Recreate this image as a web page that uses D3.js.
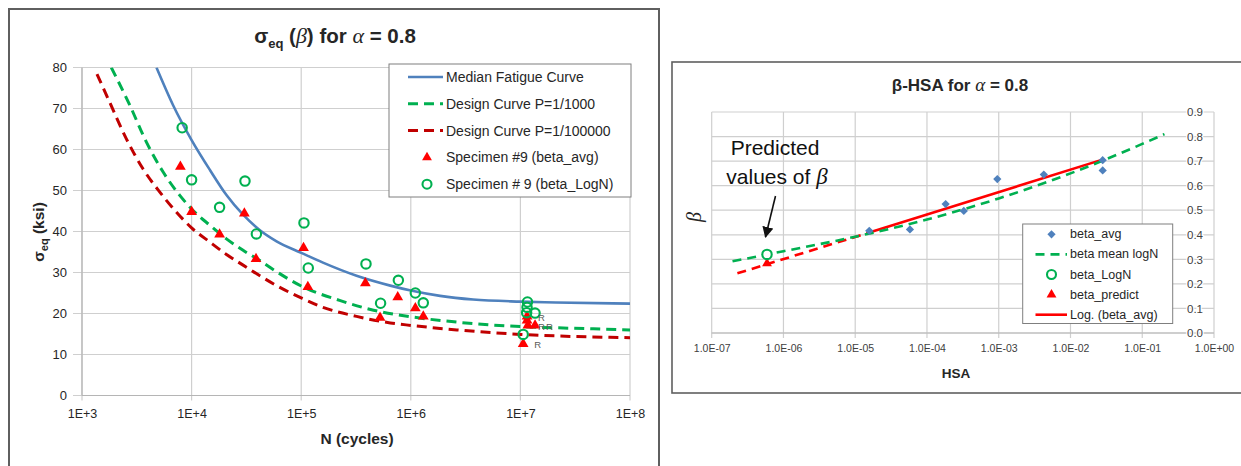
<!DOCTYPE html>
<html>
<head>
<meta charset="utf-8">
<script src="https://cdn.jsdelivr.net/npm/d3@7"></script>
<style>
  body { margin: 0; background: #fff; }
  svg { display: block; }
  text { font-family: "Liberation Sans", Arial, sans-serif; }
</style>
</head>
<body>
<svg id="chart" width="1241" height="466"></svg>
<script>
// ---------- S-N chart: equivalent stress vs. cycles ----------
const nTicks = [1e3, 1e4, 1e5, 1e6, 1e7, 1e8];
const nTickLabels = ["1E+3", "1E+4", "1E+5", "1E+6", "1E+7", "1E+8"];
const sTicks = [0, 10, 20, 30, 40, 50, 60, 70, 80];

const medianN = [4.78e3, 6.78e3, 1e4, 1.47e4, 2.08e4, 2.95e4, 4.2e4, 5.96e4, 1e5, 1.58e5, 3.2e5, 6.5e5, 1e6, 1.85e6, 3.7e6, 1e7, 2.1e7, 1e8];
const medianS = [80, 70.8, 62.3, 55.0, 48.9, 44.1, 40.3, 37.6, 34.8, 32.4, 29.2, 26.8, 25.6, 24.3, 23.4, 22.9, 22.7, 22.4];

const design1000N = [1.85e3, 2.73e3, 3.87e3, 5.5e3, 7.8e3, 1e4, 1.47e4, 2.08e4, 2.95e4, 4.2e4, 5.96e4, 1e5, 2.24e5, 4.57e5, 1e6, 2.63e6, 1e7, 3e7, 1e8];
const design1000S = [80, 70.8, 61.8, 54.5, 48.8, 45.5, 41.5, 38.2, 35.4, 32.9, 30.2, 26.7, 23.2, 20.8, 19.2, 17.9, 16.8, 16.4, 16.0];

const design100000N = [1.37e3, 1.79e3, 2.54e3, 3.6e3, 5.13e3, 7.28e3, 1e4, 1.47e4, 2.08e4, 2.95e4, 4.2e4, 5.96e4, 1e5, 1.58e5, 3.2e5, 6.5e5, 1e6, 2.63e6, 1e7, 3e7, 1e8];
const design100000S = [78.4, 71.5, 62.6, 55.3, 49.6, 44.7, 40.9, 37.4, 34.4, 31.8, 29.2, 26.8, 23.8, 21.5, 19.3, 17.7, 17.1, 16.0, 14.9, 14.4, 14.1];

// Specimen #9, beta_avg (triangles)
const avgN = [7.9e3, 1.0e4, 1.8e4, 3.03e4, 3.87e4, 1.05e5, 1.15e5, 3.85e5, 5.24e5, 7.6e5, 1.1e6, 1.3e6, 1.15e7, 1.15e7, 1.17e7, 1.36e7, 1.06e7];
const avgS = [55.8, 44.8, 39.3, 44.4, 33.3, 36.0, 26.5, 27.4, 19.0, 24.0, 21.3, 19.3, 19.3, 18.3, 17.1, 17.1, 12.6];

// Specimen #9, beta_LogN (circles)
const logNN = [8.2e3, 1.0e4, 1.8e4, 3.07e4, 3.9e4, 1.06e5, 1.16e5, 3.9e5, 5.3e5, 7.7e5, 1.1e6, 1.3e6, 1.16e7, 1.15e7, 1.14e7, 1.36e7, 1.06e7];
const logNS = [65.3, 52.6, 45.9, 52.3, 39.4, 42.1, 31.1, 32.1, 22.5, 28.1, 25.0, 22.6, 22.8, 21.5, 20.2, 20.1, 14.9];

// run-out specimens, marked "R"
const runoutN = [1.15e7, 1.15e7, 1.36e7, 1.06e7];
const runoutS = [19.3, 17.1, 17.1, 12.6];

// ---------- beta vs. HSA chart ----------
const hsaTicks = [1e-7, 1e-6, 1e-5, 1e-4, 1e-3, 1e-2, 1e-1, 1e0];
const hsaTickLabels = ["1.0E-07", "1.0E-06", "1.0E-05", "1.0E-04", "1.0E-03", "1.0E-02", "1.0E-01", "1.0E+00"];
const betaTicks = [0, 0.1, 0.2, 0.3, 0.4, 0.5, 0.6, 0.7, 0.8, 0.9];

const avgHsa = [1.57e-5, 5.79e-5, 1.82e-4, 3.26e-4, 9.55e-4, 4.25e-3, 2.81e-2, 2.81e-2];
const avgBeta = [0.416, 0.422, 0.525, 0.497, 0.627, 0.645, 0.704, 0.662];

const meanLogNHsa = [1.95e-7, 1e-6, 1e-5, 1e-4, 1e-3, 1e-2, 1e-1, 0.204];
const meanLogNBeta = [0.292, 0.333, 0.392, 0.462, 0.548, 0.650, 0.770, 0.810];

const logFitBackHsa = [2.28e-7, 1.57e-5];
const logFitBackBeta = [0.243, 0.409];
const logFitHsa = [1.57e-5, 2.65e-2];
const logFitBeta = [0.409, 0.704];

const predictHsa = [5.9e-7];
const predictLogN = [0.320];
const predictAvg = [0.283];

const svg = d3.select("#chart");
const BLUE = "#4F81BD", GREEN = "#00B050", DARKRED = "#C00000", RED = "#FF0000";
const GRID = "#cfcfcf", INK = "#262626";
const SERIF = "Liberation Serif, serif";

// ================= Left chart =================
svg.append("rect").attr("x", 9).attr("y", 9).attr("width", 650).attr("height", 470)
  .attr("fill", "#fff").attr("stroke", "#5f5f5f").attr("stroke-width", 2);

const x1 = d3.scaleLog().domain([1e3, 1e8]).range([82, 630]);
const y1 = d3.scaleLinear().domain([0, 80]).range([395.5, 67.5]);

const g1 = svg.append("g");
g1.append("clipPath").attr("id", "clip1").append("rect")
  .attr("x", 82).attr("y", 67.5).attr("width", 548).attr("height", 328);

// grid
g1.append("g").selectAll("line").data(nTicks).join("line")
  .attr("x1", d => x1(d)).attr("x2", d => x1(d)).attr("y1", y1(80)).attr("y2", y1(0) + 5)
  .attr("stroke", GRID).attr("stroke-width", 1.2);
g1.append("g").selectAll("line").data(sTicks).join("line")
  .attr("x1", x1(1e3) - 9).attr("x2", x1(1e8)).attr("y1", d => y1(d)).attr("y2", d => y1(d))
  .attr("stroke", GRID).attr("stroke-width", 1.2);
g1.append("line").attr("x1", x1(1e3)).attr("x2", x1(1e3)).attr("y1", y1(80)).attr("y2", y1(0))
  .attr("stroke", "#b5b5b5").attr("stroke-width", 1.2);
g1.append("line").attr("x1", x1(1e3)).attr("x2", x1(1e8)).attr("y1", y1(0)).attr("y2", y1(0))
  .attr("stroke", "#b5b5b5").attr("stroke-width", 1.2);

// tick labels via d3 axes
const ax1 = g1.append("g").attr("transform", `translate(0,${y1(0)})`)
  .call(d3.axisBottom(x1).tickValues(nTicks).tickFormat((d, i) => nTickLabels[i]).tickSize(0).tickPadding(14));
const ay1 = g1.append("g").attr("transform", `translate(${x1(1e3)},0)`)
  .call(d3.axisLeft(y1).tickValues(sTicks).tickFormat(d3.format("d")).tickSize(0).tickPadding(15));
ax1.selectAll("text").style("font-size", "12.5px");
ay1.selectAll("text").style("font-size", "13px");
[ax1, ay1].forEach(a => {
  a.select(".domain").remove();
  a.selectAll("text").attr("fill", INK).style("font-family", "Liberation Sans, Arial, sans-serif");
});

// curves
const lineN = d3.line().curve(d3.curveMonotoneX);
function curvePts(ns, ss) { return ns.map((n, i) => [x1(n), y1(ss[i])]); }
const curves = g1.append("g").attr("clip-path", "url(#clip1)");
curves.append("path").attr("d", lineN(curvePts(design100000N, design100000S)))
  .attr("fill", "none").attr("stroke", DARKRED).attr("stroke-width", 3).attr("stroke-dasharray", "10,6");
curves.append("path").attr("d", lineN(curvePts(design1000N, design1000S)))
  .attr("fill", "none").attr("stroke", GREEN).attr("stroke-width", 3).attr("stroke-dasharray", "10,6");
curves.append("path").attr("d", lineN(curvePts(medianN, medianS)))
  .attr("fill", "none").attr("stroke", BLUE).attr("stroke-width", 2.6);

// markers
const tri = d3.symbol(d3.symbolTriangle, 50);
g1.append("g").selectAll("path").data(avgN).join("path")
  .attr("d", tri).attr("transform", (d, i) => `translate(${x1(d)},${y1(avgS[i])})`)
  .attr("fill", RED);
g1.append("g").selectAll("circle").data(logNN).join("circle")
  .attr("cx", d => x1(d)).attr("cy", (d, i) => y1(logNS[i])).attr("r", 4.7)
  .attr("fill", "none").attr("stroke", GREEN).attr("stroke-width", 2.1);
g1.append("g").selectAll("text").data(runoutN).join("text")
  .attr("x", d => x1(d) + 11).attr("y", (d, i) => y1(runoutS[i]) + 1)
  .attr("dominant-baseline", "central").attr("fill", "#595959").style("font-size", "9.5px").text("R");

// titles
const t1 = svg.append("text").attr("x", 335).attr("y", 43).attr("text-anchor", "middle")
  .attr("font-weight", "bold").style("font-size", "20.5px").attr("fill", INK);
t1.append("tspan").text("σ");
t1.append("tspan").attr("dy", 5).style("font-size", "13px").text("eq");
t1.append("tspan").attr("dy", -5).text(" (");
t1.append("tspan").style("font-family", SERIF).attr("font-style", "italic").attr("font-weight", "normal").style("font-size", "22px").text("β");
t1.append("tspan").text(") for ");
t1.append("tspan").style("font-family", SERIF).attr("font-style", "italic").attr("font-weight", "normal").style("font-size", "22px").text("α");
t1.append("tspan").text(" = 0.8");

svg.append("text").attr("x", 357).attr("y", 444).attr("text-anchor", "middle")
  .attr("font-weight", "bold").style("font-size", "15.5px").attr("fill", INK).text("N (cycles)");

const yl1 = svg.append("text").attr("transform", "translate(44,232) rotate(-90)").attr("text-anchor", "middle")
  .attr("font-weight", "bold").style("font-size", "15.5px").attr("fill", INK);
yl1.append("tspan").text("σ");
yl1.append("tspan").attr("dy", 4).style("font-size", "11px").text("eq");
yl1.append("tspan").attr("dy", -4).text(" (ksi)");

// legend
const lg1 = svg.append("g");
lg1.append("rect").attr("x", 389).attr("y", 64).attr("width", 242).attr("height", 133)
  .attr("fill", "#fff").attr("stroke", "#7f7f7f").attr("stroke-width", 1);
const leg1 = [
  { label: "Median Fatigue Curve", kind: "line", color: BLUE, dash: null },
  { label: "Design Curve P=1/1000", kind: "line", color: GREEN, dash: "10,6" },
  { label: "Design Curve P=1/100000", kind: "line", color: DARKRED, dash: "10,6" },
  { label: "Specimen #9 (beta_avg)", kind: "tri", color: RED },
  { label: "Specimen # 9 (beta_LogN)", kind: "circle", color: GREEN }
];
leg1.forEach((e, i) => {
  const yy = 77 + i * 26.8;
  if (e.kind === "line") {
    lg1.append("line").attr("x1", 408).attr("x2", 443).attr("y1", yy).attr("y2", yy)
      .attr("stroke", e.color).attr("stroke-width", e.dash ? 3 : 2.6).attr("stroke-dasharray", e.dash);
  } else if (e.kind === "tri") {
    lg1.append("path").attr("d", d3.symbol(d3.symbolTriangle, 42)).attr("transform", `translate(427,${yy})`).attr("fill", e.color);
  } else {
    lg1.append("circle").attr("cx", 427).attr("cy", yy).attr("r", 4.5).attr("fill", "none").attr("stroke", e.color).attr("stroke-width", 2.1);
  }
  lg1.append("text").attr("x", 446).attr("y", yy).attr("dominant-baseline", "central")
    .style("font-size", "14px").attr("fill", INK).text(e.label);
});

// ================= Right chart =================
svg.append("rect").attr("x", 672).attr("y", 62).attr("width", 600).attr("height", 331)
  .attr("fill", "#fff").attr("stroke", "#5f5f5f").attr("stroke-width", 1.6);

const x2 = d3.scaleLog().domain([1e-7, 1e0]).range([711.7, 1214]);
const y2 = d3.scaleLinear().domain([0, 0.9]).range([333, 112]);
const g2 = svg.append("g");
g2.append("clipPath").attr("id", "clip2").append("rect")
  .attr("x", 711.7).attr("y", 112).attr("width", 502.3).attr("height", 221);

g2.append("g").selectAll("line").data(hsaTicks).join("line")
  .attr("x1", d => x2(d)).attr("x2", d => x2(d)).attr("y1", y2(0.9)).attr("y2", y2(0) + 5)
  .attr("stroke", GRID).attr("stroke-width", 1.2);
g2.append("g").selectAll("line").data(betaTicks).join("line")
  .attr("x1", x2(1e-7)).attr("x2", x2(1e0)).attr("y1", d => y2(d)).attr("y2", d => y2(d))
  .attr("stroke", GRID).attr("stroke-width", 1.2);
g2.append("line").attr("x1", x2(1e-7)).attr("x2", x2(1e0)).attr("y1", y2(0)).attr("y2", y2(0))
  .attr("stroke", "#b5b5b5").attr("stroke-width", 1.2);

const ax2 = g2.append("g").attr("transform", `translate(0,${y2(0)})`)
  .call(d3.axisBottom(x2).tickValues(hsaTicks).tickFormat((d, i) => hsaTickLabels[i]).tickSize(0).tickPadding(12));
const ay2 = g2.append("g").attr("transform", `translate(1195,0)`)
  .call(d3.axisRight(y2).tickValues(betaTicks).tickFormat(d3.format(".1f")).tickSize(0).tickPadding(0));
ax2.select(".domain").remove();
ay2.select(".domain").remove();
ax2.selectAll("text").attr("fill", "#404040").style("font-size", "10.5px").style("font-family", "Liberation Sans, Arial, sans-serif");
ay2.selectAll("text").attr("text-anchor", "middle").attr("fill", "#404040")
  .style("font-size", "11.5px").style("font-family", "Liberation Sans, Arial, sans-serif")
  .attr("stroke", "#fff").attr("stroke-width", 2.5).attr("paint-order", "stroke");

const line2 = d3.line().x(d => x2(d[0])).y(d => y2(d[1]));
const zip = (a, b) => a.map((v, i) => [v, b[i]]);
const lines2 = g2.append("g").attr("clip-path", "url(#clip2)");
lines2.append("path").attr("d", line2(zip(logFitBackHsa, logFitBackBeta)))
  .attr("fill", "none").attr("stroke", RED).attr("stroke-width", 2.6).attr("stroke-dasharray", "9,6");
lines2.append("path").attr("d", line2(zip(logFitHsa, logFitBeta)))
  .attr("fill", "none").attr("stroke", RED).attr("stroke-width", 2.6);
lines2.append("path").attr("d", line2.curve(d3.curveMonotoneX)(zip(meanLogNHsa, meanLogNBeta)))
  .attr("fill", "none").attr("stroke", GREEN).attr("stroke-width", 2.6).attr("stroke-dasharray", "9,6");

const dia = d3.symbol(d3.symbolSquare, 34);
g2.append("g").selectAll("path").data(avgHsa).join("path")
  .attr("d", dia).attr("transform", (d, i) => `translate(${x2(d)},${y2(avgBeta[i])}) rotate(45)`)
  .attr("fill", BLUE);
g2.append("g").selectAll("path").data(predictHsa).join("path")
  .attr("d", d3.symbol(d3.symbolTriangle, 42))
  .attr("transform", (d, i) => `translate(${x2(d)},${y2(predictAvg[i])})`).attr("fill", RED);
g2.append("g").selectAll("circle").data(predictHsa).join("circle")
  .attr("cx", d => x2(d)).attr("cy", (d, i) => y2(predictLogN[i])).attr("r", 4.7)
  .attr("fill", "#fff").attr("stroke", GREEN).attr("stroke-width", 2.1);

// annotation
svg.append("text").attr("x", 775).attr("y", 155).attr("text-anchor", "middle")
  .style("font-size", "21px").attr("fill", "#111").text("Predicted");
const ann2 = svg.append("text").attr("x", 777).attr("y", 183.5).attr("text-anchor", "middle")
  .style("font-size", "21px").attr("fill", "#111");
ann2.append("tspan").text("values of ");
ann2.append("tspan").style("font-family", SERIF).attr("font-style", "italic").style("font-size", "23px").text("β");
svg.append("defs").append("marker").attr("id", "arrowhead").attr("viewBox", "0 0 10 10")
  .attr("refX", 9).attr("refY", 5).attr("markerWidth", 7).attr("markerHeight", 7).attr("orient", "auto")
  .append("path").attr("d", "M0,0 L10,5 L0,10 Z").attr("fill", "#111");
svg.append("line").attr("x1", 775.5).attr("y1", 196).attr("x2", 765.5).attr("y2", 237)
  .attr("stroke", "#111").attr("stroke-width", 1.6).attr("marker-end", "url(#arrowhead)");

// titles
const t2 = svg.append("text").attr("x", 960).attr("y", 91).attr("text-anchor", "middle")
  .attr("font-weight", "bold").style("font-size", "17px").attr("fill", INK);
t2.append("tspan").text("β-HSA for ");
t2.append("tspan").style("font-family", SERIF).attr("font-style", "italic").attr("font-weight", "normal").style("font-size", "19px").text("α");
t2.append("tspan").text(" = 0.8");

svg.append("text").attr("x", 956).attr("y", 373.5).attr("text-anchor", "middle").attr("dominant-baseline", "central")
  .attr("font-weight", "bold").style("font-size", "13.5px").attr("fill", INK).text("HSA");
svg.append("text").attr("transform", "translate(701,217) rotate(-90)").attr("text-anchor", "middle")
  .style("font-family", SERIF).attr("font-style", "italic").style("font-size", "20px")
  .attr("fill", INK).text("β");

// legend
const lg2 = svg.append("g");
lg2.append("rect").attr("x", 1022.7).attr("y", 224).attr("width", 150).attr("height", 99.5)
  .attr("fill", "#fff").attr("stroke", "#7f7f7f").attr("stroke-width", 1);
const leg2 = [
  { label: "beta_avg", kind: "diamond", color: BLUE },
  { label: "beta mean logN", kind: "line", color: GREEN, dash: "9,6" },
  { label: "beta_LogN", kind: "circle", color: GREEN },
  { label: "beta_predict", kind: "tri", color: RED },
  { label: "Log. (beta_avg)", kind: "line", color: RED, dash: null }
];
leg2.forEach((e, i) => {
  const yy = 234.3 + i * 20.1;
  if (e.kind === "line") {
    lg2.append("line").attr("x1", 1035.5).attr("x2", 1067).attr("y1", yy).attr("y2", yy)
      .attr("stroke", e.color).attr("stroke-width", 2.6).attr("stroke-dasharray", e.dash);
  } else if (e.kind === "diamond") {
    lg2.append("path").attr("d", dia).attr("transform", `translate(1051.5,${yy}) rotate(45)`).attr("fill", e.color);
  } else if (e.kind === "tri") {
    lg2.append("path").attr("d", d3.symbol(d3.symbolTriangle, 42)).attr("transform", `translate(1051.5,${yy})`).attr("fill", e.color);
  } else {
    lg2.append("circle").attr("cx", 1051.5).attr("cy", yy).attr("r", 4.5).attr("fill", "none").attr("stroke", e.color).attr("stroke-width", 2.1);
  }
  lg2.append("text").attr("x", 1070).attr("y", yy).attr("dominant-baseline", "central")
    .style("font-size", "12.5px").attr("fill", INK).text(e.label);
});
</script>
</body>
</html>
